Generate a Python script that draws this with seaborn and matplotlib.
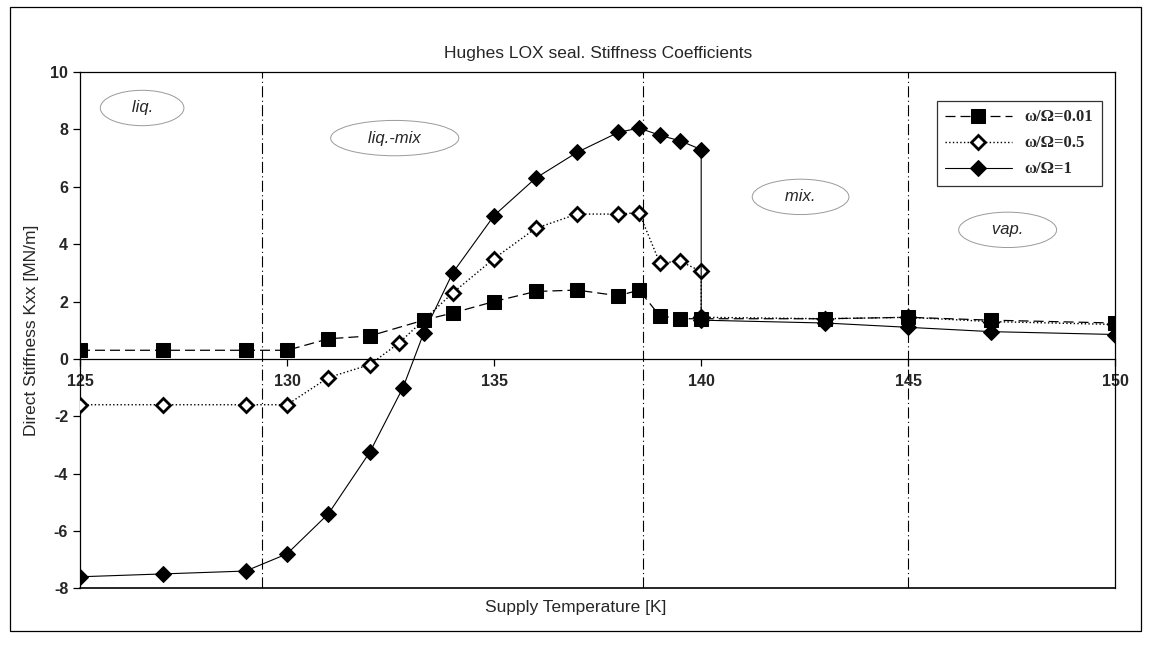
import numpy as np
import pandas as pd
import seaborn as sns
import matplotlib.pyplot as plt
from matplotlib.patches import Rectangle

# omega/Omega = 0.01 (filled squares)
t_low = [125, 127, 129, 130, 131, 132, 133.3, 134, 135, 136, 137, 138, 138.5,
         139, 139.5, 140, 143, 145, 147, 150]
k_low = [0.3, 0.3, 0.3, 0.3, 0.7, 0.8, 1.35, 1.6, 2.0, 2.35, 2.4, 2.2, 2.4,
         1.5, 1.4, 1.4, 1.4, 1.45, 1.35, 1.25]

# omega/Omega = 0.5 (open diamonds)
t_mid = [125, 127, 129, 130, 131, 132, 132.7, 134, 135, 136, 137, 138, 138.5,
         139, 139.5, 140, 140, 143, 145, 147, 150]
k_mid = [-1.6, -1.6, -1.6, -1.6, -0.65, -0.2, 0.55, 2.3, 3.5, 4.55, 5.05, 5.05, 5.1,
         3.35, 3.4, 3.05, 1.45, 1.4, 1.45, 1.3, 1.2]

# omega/Omega = 1 (filled diamonds)
t_high = [125, 127, 129, 130, 131, 132, 132.8, 133.3, 134, 135, 136, 137, 138, 138.5,
          139, 139.5, 140, 140, 143, 145, 147, 150]
k_high = [-7.6, -7.5, -7.4, -6.8, -5.4, -3.25, -1.0, 0.9, 3.0, 5.0, 6.3, 7.2, 7.9, 8.05,
          7.8, 7.6, 7.3, 1.35, 1.25, 1.1, 0.95, 0.85]

labels = ["ω/Ω=0.01", "ω/Ω=0.5", "ω/Ω=1"]

# phase boundaries and region names
bounds = [129.4, 138.6, 145]
regions = ["liq.", "liq.-mix", "mix.", "vap."]
region_x = [126.5, 132.6, 142.4, 147.4]
region_y = [8.75, 7.7, 5.65, 4.5]

df_low = pd.DataFrame({"T": t_low, "K": k_low})
df_mid = pd.DataFrame({"T": t_mid, "K": k_mid})
df_high = pd.DataFrame({"T": t_high, "K": k_high})

sns.set_style("white")
plt.rcParams['font.family'] = ['Liberation Sans', 'DejaVu Sans']
plt.rcParams['axes.unicode_minus'] = False

fig = plt.figure(figsize=(11.51, 6.5), dpi=100)
ax = fig.add_axes([0.0695, 0.095, 0.8995, 0.794])

sns.lineplot(data=df_mid, x="T", y="K", ax=ax, estimator=None, sort=False,
             color="black", marker="D", markersize=7, markerfacecolor="white",
             markeredgecolor="black", markeredgewidth=2, linestyle=":",
             linewidth=1.0, label=labels[1], zorder=3)
sns.lineplot(data=df_high, x="T", y="K", ax=ax, estimator=None, sort=False,
             color="black", marker="D", markersize=8, markeredgecolor="black",
             linestyle="-", linewidth=0.8, label=labels[2], zorder=4)
sns.lineplot(data=df_low, x="T", y="K", ax=ax, estimator=None, sort=False,
             color="black", marker="s", markersize=10, markeredgecolor="black",
             linestyle=(0, (8, 4)), linewidth=0.9, label=labels[0], zorder=5)

for b in bounds:
    ax.axvline(b, color="black", lw=0.8, linestyle=(0, (10, 3, 1, 3)), zorder=1)

for name, x, y in zip(regions, region_x, region_y):
    ax.text(x, y, "   " + name + "   ", ha="center", va="center", fontsize=12,
            style="italic",
            bbox=dict(boxstyle="ellipse,pad=0.3", fc="white", ec="#9a9a9a", lw=0.7))

ax.set_xlim(125, 150)
ax.set_ylim(-8, 10)
ax.set_xticks([125, 130, 135, 140, 145, 150])
ax.set_yticks(range(-8, 11, 2))

ax.spines["bottom"].set_position(("data", 0))
for s in ax.spines.values():
    s.set_color("black")
    s.set_linewidth(0.9)
ax.axhline(-8, color="black", lw=1.2, clip_on=False)

ax.tick_params(axis="both", direction="out", length=5, width=0.9, color="black",
               labelsize=11.5, bottom=True, left=True)
ax.tick_params(axis="x", pad=6)
for lab in ax.get_xticklabels() + ax.get_yticklabels():
    lab.set_fontweight("bold")

ax.set_xlabel("")
ax.set_ylabel("Direct Stiffness Kxx [MN/m]", fontsize=12.5, labelpad=8)
fig.text(0.5, 0.065, "Supply Temperature [K]", ha="center", va="center", fontsize=12.5)
ax.set_title("Hughes LOX seal. Stiffness Coefficients", fontsize=12.5, pad=10)

# legend in the original order
handles, labs = ax.get_legend_handles_labels()
order = [labs.index(l) for l in labels]
leg = ax.legend([handles[i] for i in order], [labs[i] for i in order],
                loc="upper right", bbox_to_anchor=(0.995, 0.96), frameon=True,
                fancybox=False, edgecolor="black", handlelength=4.0,
                prop={"family": "Liberation Serif", "size": 12, "weight": "bold"},
                borderpad=0.5, labelspacing=0.6)
leg.get_frame().set_linewidth(0.9)
leg.set_zorder(10)

fig.patches.append(Rectangle((0.009, 0.03), 0.982, 0.96, transform=fig.transFigure,
                             fill=False, ec="black", lw=0.9))

fig.savefig("out.png", dpi=100)
